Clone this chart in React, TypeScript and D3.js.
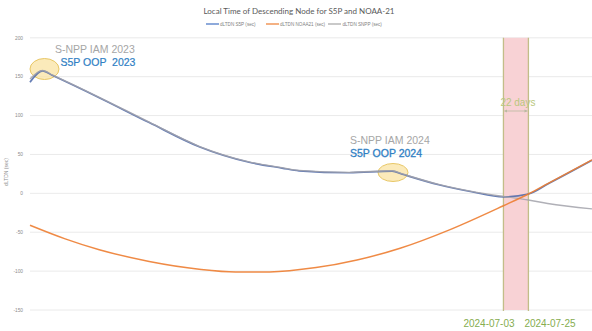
import React from "react";
import * as d3 from "d3";

const W = 592;
const H = 331;

const yTicks = [200, 150, 100, 50, 0, -50, -100, -150];

const s5pDates = ["2023-05-13","2023-05-24","2023-06-02","2023-07-13","2023-08-26","2023-10-09","2023-11-22","2023-12-21","2024-01-05","2024-02-18","2024-03-27","2024-04-05","2024-05-07","2024-06-05","2024-07-03","2024-07-25","2024-08-11","2024-09-19"];
const s5pValues = [143, 157.5, 151.5, 123, 91, 60, 40, 32.5, 29, 26.5, 28.5, 24.5, 11, 2, -4.5, -0.8, 12, 42.5];

const snppDates = ["2023-05-13","2023-05-24","2023-06-02","2023-07-13","2023-08-26","2023-10-09","2023-11-22","2023-12-21","2024-01-05","2024-02-18","2024-03-27","2024-04-05","2024-05-07","2024-06-05","2024-07-03","2024-07-25","2024-08-11","2024-09-19"];
const snppValues = [147, 158, 152, 123.5, 91.5, 60.5, 40.5, 33, 29.5, 27, 29, 25, 11.5, 2.5, -4, -8.5, -13, -20];

const noaaDates = ["2023-05-13","2023-06-13","2023-07-13","2023-08-26","2023-10-09","2023-11-10","2023-12-10","2024-01-20","2024-02-25","2024-04-03","2024-05-17","2024-07-03","2024-07-25","2024-08-11","2024-09-19"];
const noaaValues = [-41, -58.5, -72.5, -87.5, -97.5, -101, -101, -95.5, -85.7, -70.6, -46.6, -15.9, -0.8, 12.4, 43];

const bandStart = "2024-07-03";
const bandEnd = "2024-07-25";
const domainStart = "2023-05-13";
const domainEnd = "2024-09-19";

const parse = d3.timeParse("%Y-%m-%d");

export default function App() {
  const left = 30, right = 592, top = 37.8, bottom = 310;
  const x = d3.scaleTime().domain([parse(domainStart)!, parse(domainEnd)!]).range([left, right]);
  const y = d3.scaleLinear().domain([-150, 200]).range([bottom, top]);

  const line = d3.line<[Date, number]>().x(d => x(d[0])).y(d => y(d[1])).curve(d3.curveMonotoneX);
  const mk = (ds: string[], vs: number[]) => ds.map((s, i) => [parse(s)!, vs[i]] as [Date, number]);

  const bx0 = x(parse(bandStart)!);
  const bx1 = x(parse(bandEnd)!);
  const font = "'Liberation Sans', Arial, sans-serif";

  return (
    <svg width={W} height={H} style={{ position: "absolute", left: 0, top: 0, background: "#fff" }}>
      <defs>
        <marker id="ah" viewBox="0 0 6 6" refX="5.5" refY="3" markerWidth="4" markerHeight="4" orient="auto-start-reverse">
          <path d="M0,0 L6,3 L0,6 z" fill="#b9b9a0" />
        </marker>
      </defs>
      <text x={299} y={14} textAnchor="middle" fontFamily="Lato, sans-serif" fontSize={8} fill="#595959">
        Local Time of Descending Node for S5P and NOAA-21
      </text>
      {/* legend */}
      <g fontFamily={font} fontSize={4.6} fill="#7f7f7f">
        <line x1={206} x2={219} y1={24} y2={24} stroke="#4472c4" strokeWidth={1.2} />
        <text x={220} y={25.6}>dLTDN S5P (sec)</text>
        <line x1={266} x2={279} y1={24} y2={24} stroke="#ed7d31" strokeWidth={1.2} />
        <text x={280} y={25.6}>dLTDN NOAA21 (sec)</text>
        <line x1={328} x2={341} y1={24} y2={24} stroke="#a5a5a5" strokeWidth={1.2} />
        <text x={342.5} y={25.6}>dLTDN SNPP (sec)</text>
      </g>
      {/* grid */}
      {yTicks.map(t => (
        <g key={t}>
          <line x1={left} x2={right} y1={y(t)} y2={y(t)} stroke="#e4e4e4" strokeWidth={0.8} />
          <text x={23} y={y(t) + 1.7} textAnchor="end" fontFamily={font} fontSize={4.8} fill="#8c8c8c">{t}</text>
        </g>
      ))}
      <text transform={`translate(8,172) rotate(-90)`} textAnchor="middle" fontFamily={font} fontSize={5} fill="#8c8c8c">dLTDN (sec)</text>
      {/* band */}
      <rect x={bx0} y={top} width={bx1 - bx0} height={bottom - top} fill="#f8d2d5" />
      <line x1={bx0} x2={bx0} y1={top} y2={bottom + 1} stroke="#c2bd88" strokeWidth={1.3} />
      <line x1={bx1} x2={bx1} y1={top} y2={bottom + 1} stroke="#c2bd88" strokeWidth={1.3} />
      <text x={(bx0 + bx1) / 2 + 2} y={106} textAnchor="middle" fontFamily={font} fontSize={10} fill="#b9c77d">22 days</text>
      <line x1={bx0 + 1} x2={bx1 - 1} y1={111} y2={111} stroke="#b9b9a0" strokeWidth={0.8} markerStart="url(#ah)" markerEnd="url(#ah)" />
      {/* ellipses */}
      <ellipse cx={44.5} cy={69} rx={14.5} ry={10.5} fill="#f9e3a3" fillOpacity={0.75} stroke="#e8c766" strokeWidth={1} />
      <ellipse cx={393} cy={172.5} rx={15} ry={9} fill="#f9e3a3" fillOpacity={0.75} stroke="#e8c766" strokeWidth={1} />
      {/* lines */}
      <path d={line(mk(s5pDates, s5pValues))!} fill="none" stroke="#4a66a8" strokeWidth={1.7} strokeOpacity={0.85} />
      <path d={line(mk(snppDates, snppValues))!} fill="none" stroke="#a2a2aa" strokeWidth={1.4} strokeOpacity={0.85} />
      <path d={line(mk(noaaDates, noaaValues))!} fill="none" stroke="#ed7d31" strokeWidth={1.5} strokeOpacity={0.9} />
      {/* annotations */}
      <text x={55} y={53} fontFamily={font} fontSize={10.5} fill="#a6a6a6">S-NPP IAM 2023</text>
      <text x={60.5} y={66} fontFamily={font} fontSize={10.5} fill="#2f80c4" stroke="#2f80c4" strokeWidth={0.2} style={{ whiteSpace: "pre" }}>S5P OOP  2023</text>
      <text x={350} y={143.5} fontFamily={font} fontSize={10.5} fill="#a6a6a6">S-NPP IAM 2024</text>
      <text x={350} y={157} fontFamily={font} fontSize={10.5} fill="#2f80c4" stroke="#2f80c4" strokeWidth={0.3}>S5P OOP 2024</text>
      <text x={489} y={327} textAnchor="middle" fontFamily={font} fontSize={10} fill="#86ad4f">2024-07-03</text>
      <text x={550} y={327} textAnchor="middle" fontFamily={font} fontSize={10} fill="#86ad4f">2024-07-25</text>
    </svg>
  );
}
